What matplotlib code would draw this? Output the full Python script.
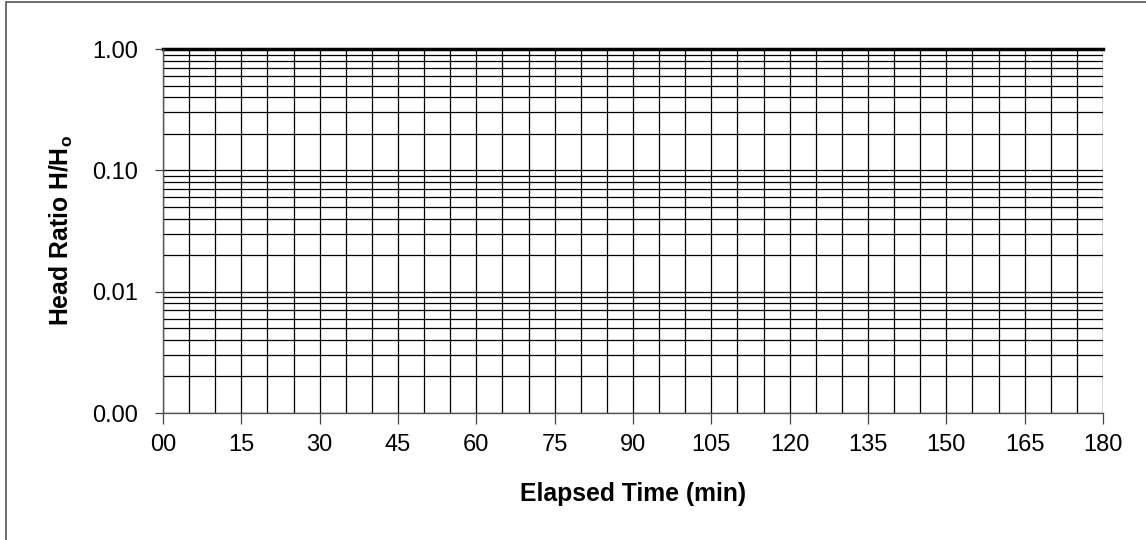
import matplotlib
matplotlib.use("Agg")
import matplotlib.pyplot as plt
from matplotlib.ticker import FixedLocator, LogLocator, NullFormatter
import matplotlib.patches as mpatches

plt.rcParams['font.family'] = ['Liberation Sans', 'DejaVu Sans']
plt.rcParams['mathtext.fontset'] = 'custom'
plt.rcParams['mathtext.rm'] = 'Liberation Sans'
plt.rcParams['mathtext.bf'] = 'Liberation Sans:bold'

# Axis definitions
x_min, x_max = 0, 180
x_major = [0, 15, 30, 45, 60, 75, 90, 105, 120, 135, 150, 165, 180]
x_labels = ['00', '15', '30', '45', '60', '75', '90', '105', '120', '135', '150', '165', '180']
x_grid = list(range(0, 181, 5))
y_major = [0.001, 0.01, 0.1, 1.0]
y_labels = ['0.00', '0.01', '0.10', '1.00']
x_title = 'Elapsed Time (min)'
y_title = r'Head Ratio H/H$_\mathbf{o}$'

fig = plt.figure(figsize=(11.46, 5.4), dpi=100)
ax = fig.add_axes([163/1146, 1-413/540, (1103-163)/1146, (413-49)/540])
ax.set_yscale('log')
ax.set_xlim(x_min, x_max)
ax.set_ylim(y_major[0], y_major[-1])

ax.xaxis.set_major_locator(FixedLocator(x_major))
ax.set_xticklabels(x_labels)
ax.xaxis.set_minor_locator(FixedLocator(x_grid))
ax.yaxis.set_major_locator(FixedLocator(y_major))
ax.set_yticklabels(y_labels)
ax.yaxis.set_minor_locator(LogLocator(base=10, subs=range(2, 10)))
ax.yaxis.set_minor_formatter(NullFormatter())

ax.grid(True, which='both', axis='both', color='black', linewidth=0.9)
ax.tick_params(axis='x', which='major', length=8, width=0.9, colors='#444444', labelcolor='black',
               labelsize=17, direction='out', pad=7)
ax.tick_params(axis='y', which='major', length=6, width=0.9, colors='#444444', labelcolor='black',
               labelsize=17, direction='out', pad=12)
ax.tick_params(which='minor', length=0)
for s in ['top', 'right']:
    ax.spines[s].set_visible(False)
for s in ['left', 'bottom']:
    ax.spines[s].set_color('#555555')
    ax.spines[s].set_linewidth(1.0)
ax.axhline(1.0, color='black', linewidth=2.5, clip_on=False)

ax.set_xlabel(x_title, fontsize=17.8, fontweight='bold', labelpad=19)
ax.set_ylabel(y_title, fontsize=17.8, fontweight='bold', labelpad=12)

fig.patches.append(mpatches.Rectangle((6/1146, -0.1), 1.2, (1-2/540) + 0.1,
                                      transform=fig.transFigure, fill=False,
                                      edgecolor='#555555', linewidth=1.2))

fig.savefig('out.png', dpi=100)
